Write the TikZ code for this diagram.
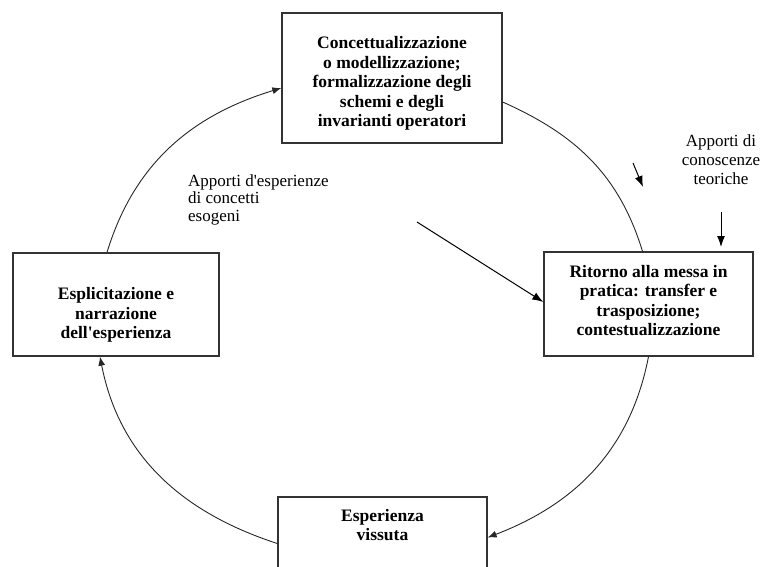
\documentclass[tikz,border=0pt]{standalone}
\usepackage{fontspec}
\setmainfont{Liberation Serif}
\usetikzlibrary{arrows.meta}

\begin{document}
\begin{tikzpicture}[x=1pt,y=1pt,
    box/.style={rectangle,draw=black!80,line width=1.3pt,align=center,inner sep=0pt,
        font=\fontsize{17.5}{19.5}\selectfont\bfseries},
    note/.style={inner sep=0pt,font=\fontsize{17}{17.6}\selectfont},
    cycle/.style={line width=0.9pt,draw=black!85},
    tip/.style={-{Latex[length=9pt,width=7pt]}},
    apport/.style={line width=1pt,-{Latex[length=11pt,width=8pt]}}]
    \useasboundingbox (0,0) rectangle (763,-566);
    \clip (0,0) rectangle (763,-566);
    \begin{scope}[every node/.style={box}]
        \node (conc) [minimum width=220pt,minimum height=130pt] at (392,-78)
            {\mbox{}\\[3.5pt]Concettualizzazione\\o modellizzazione;\\formalizzazione degli\\schemi e degli\\invarianti operatori};
        \node (rit) [minimum width=209pt,minimum height=104pt] at (648.5,-304)
            {\mbox{}\\[-14.5pt]Ritorno alla messa in\\pratica: transfer e\\trasposizione;\\contestualizzazione};
        \node (esp) [minimum width=209pt,minimum height=103pt,text depth=47pt] at (382.5,-548.5)
            {Esperienza\\vissuta};
        \node (expl) [minimum width=206pt,minimum height=103pt] at (116,-304.5)
            {\mbox{}\\[13.5pt]Esplicitazione e\\narrazione\\dell\textquotesingle esperienza};
    \end{scope}
    \node (espo) [note,align=left,anchor=north west] at (188,-174)
        {Apporti d\textquotesingle esperienze\\di concetti\\esogeni};
    \node (teor) [note,align=center,anchor=north,font=\fontsize{17}{19}\selectfont] at (721,-134)
        {Apporti di\\conoscenze\\teoriche};
    \coordinate (e1) at (417,-222);
    \coordinate (t1) at (633,-163);
    \coordinate (t2) at (643,-187);
    \coordinate (t3) at (721,-212);
    \coordinate (t4) at (721,-247);
    % il ciclo
    \begin{scope}[every edge/.style={draw,cycle}]
        \draw ([xshift=-9pt]expl.north) edge [tip,out=73,in=197] ([yshift=-10pt]conc.west);
        \draw ([yshift=-24pt]conc.east) edge [out=-24,in=107] ([xshift=-6pt]rit.north);
        \draw (rit.south) edge [tip,out=259,in=21] ([yshift=11pt]esp.east);
        \draw ([yshift=5pt]esp.west) edge [tip,out=162,in=281] ([xshift=-16pt]expl.south);
    \end{scope}
    % apporti
    \draw [apport] (e1) -- ([yshift=2pt]rit.west);
    \draw [apport] (t1) -- (t2);
    \draw [apport] (t3) -- (t4);
\end{tikzpicture}
\end{document}
